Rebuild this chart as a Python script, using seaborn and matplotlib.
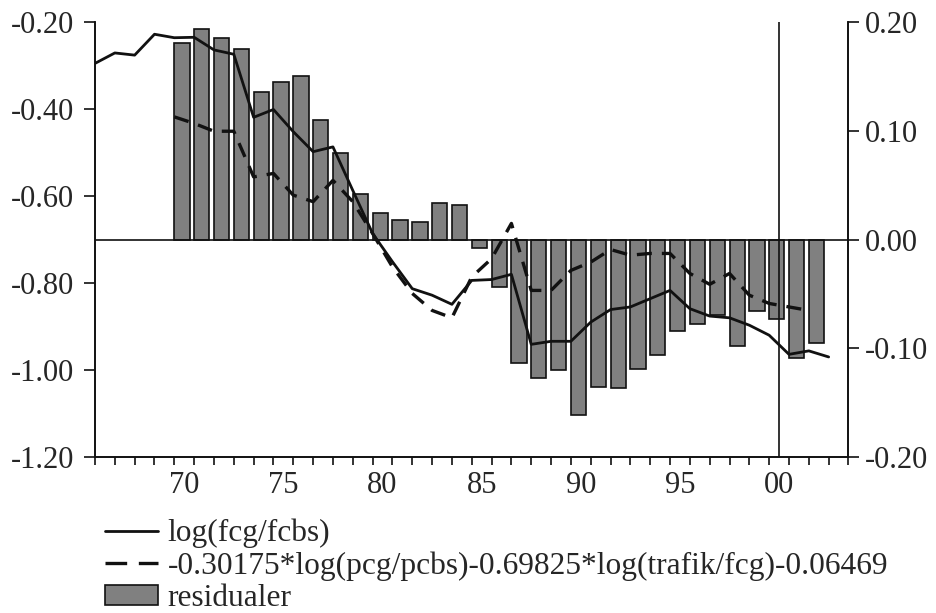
"""Residual chart: log(fcg/fcbs), fitted relation and residuals (twin axes)."""

import matplotlib

matplotlib.use("Agg")

import matplotlib.pyplot as plt
import matplotlib.patches as mpatches
import numpy as np
import pandas as pd
import seaborn as sns

# --- data ------------------------------------------------------------------
years_actual = list(range(1966, 2004))
actual = [
    -0.295, -0.271, -0.276, -0.228, -0.236, -0.235, -0.264, -0.274,
    -0.419, -0.401, -0.452, -0.498, -0.487, -0.587, -0.686, -0.751,
    -0.813, -0.828, -0.849, -0.794, -0.792, -0.780, -0.941, -0.934,
    -0.934, -0.890, -0.861, -0.855, -0.836, -0.817, -0.859, -0.876,
    -0.880, -0.897, -0.920, -0.964, -0.956, -0.970,
]

years_fit = list(range(1970, 2003))
fitted = [
    -0.418, -0.433, -0.451, -0.451, -0.556, -0.548, -0.598, -0.613,
    -0.564, -0.613, -0.686, -0.763, -0.824, -0.863, -0.880, -0.786,
    -0.744, -0.663, -0.817, -0.817, -0.771, -0.752, -0.723, -0.736,
    -0.732, -0.732, -0.778, -0.803, -0.778, -0.828, -0.847, -0.855,
    -0.863,
]
residuals = [
    0.181, 0.194, 0.185, 0.175, 0.136, 0.145, 0.150, 0.110,
    0.080, 0.042, 0.024, 0.018, 0.016, 0.034, 0.032, -0.008,
    -0.044, -0.114, -0.127, -0.120, -0.161, -0.136, -0.137, -0.119,
    -0.106, -0.084, -0.078, -0.069, -0.098, -0.066, -0.073, -0.109,
    -0.095,
]

label_years = [1970, 1975, 1980, 1985, 1990, 1995, 2000]
label_text = ["70", "75", "80", "85", "90", "95", "00"]
left_ticks = [-0.20, -0.40, -0.60, -0.80, -1.00, -1.20]
right_ticks = [0.20, 0.10, 0.00, -0.10, -0.20]
forecast_start = 2000.5

LBL_ACTUAL = "log(fcg/fcbs)"
LBL_FIT = "-0.30175*log(pcg/pcbs)-0.69825*log(trafik/fcg)-0.06469"
LBL_RESID = "residualer"

# --- style -----------------------------------------------------------------
sns.set_theme(style="white")
plt.rcParams["font.family"] = ["Liberation Serif", "DejaVu Serif"]
plt.rcParams["axes.unicode_minus"] = False
FS = 22
LEG_FS = 22.6
BAR_W = 0.77
BAR_COLOR = "#808080"
INK = "#111111"

fig = plt.figure(figsize=(9.36, 6.13), dpi=100)
ax = fig.add_axes([0.1015, 0.2545, 0.805, 0.7095])  # bars, right scale
ax2 = ax.twinx()  # lines, left scale

# residual bars (left edge at the year)
bar_df = pd.DataFrame({"pos": np.array(years_fit) + BAR_W / 2, "resid": residuals})
sns.barplot(
    data=bar_df, x="pos", y="resid", native_scale=True, width=BAR_W,
    color=BAR_COLOR, saturation=1, edgecolor=INK, linewidth=1.2,
    errorbar=None, ax=ax,
)
ax.axhline(0, color=INK, lw=1.2, zorder=1)
ax.axvline(forecast_start, color=INK, lw=1.2)

# lines
act_df = pd.DataFrame({"year": years_actual, "value": actual})
fit_df = pd.DataFrame({"year": years_fit, "value": fitted})
sns.lineplot(data=act_df, x="year", y="value", color=INK, lw=2.0, ax=ax2)
sns.lineplot(data=fit_df, x="year", y="value", color=INK, lw=2.4, ax=ax2)
ax2.lines[-1].set_dashes([4.5, 3.0])

# axes scales / ticks
ax.set_xlim(1966, 2004)
ax.set_ylim(-0.20, 0.20)
ax2.set_ylim(-1.20, -0.20)

ax.yaxis.tick_right()
ax.yaxis.set_label_position("right")
ax2.yaxis.tick_left()
ax2.yaxis.set_label_position("left")

ax.set_yticks(right_ticks)
ax.set_yticklabels([f"{v:.2f}" for v in right_ticks], fontsize=FS)
ax2.set_yticks(left_ticks)
ax2.set_yticklabels([f"{v:.2f}" for v in left_ticks], fontsize=FS)

ax.set_xticks(range(1966, 2005))
ax.set_xticklabels([])
ax.set_xticks([y + 0.5 for y in label_years], minor=True)
ax.set_xticklabels(label_text, minor=True, fontsize=FS)
ax.tick_params(axis="x", which="major", direction="out", length=6, width=1.2,
               color=INK, bottom=True)
ax.tick_params(axis="x", which="minor", length=0, pad=10, bottom=True)
ax.tick_params(axis="y", direction="out", length=8, width=1.2, color=INK,
               right=True, left=False, pad=4)
ax2.tick_params(axis="y", direction="out", length=8, width=1.2, color=INK,
                left=True, right=False, pad=7)

for a in (ax, ax2):
    a.set_xlabel("")
    a.set_ylabel("")
    a.spines["top"].set_visible(False)
    for side in ("left", "right", "bottom"):
        a.spines[side].set_color(INK)
        a.spines[side].set_linewidth(1.2)
ax2.grid(False)
ax.grid(False)

# legend below the plot
handles = [
    plt.Line2D([], [], color=INK, lw=2.0),
    plt.Line2D([], [], color=INK, lw=2.4, dashes=[6.5, 3.5]),
    mpatches.Patch(facecolor=BAR_COLOR, edgecolor=INK, linewidth=1.2),
]
fig.legend(
    handles, [LBL_ACTUAL, LBL_FIT, LBL_RESID],
    loc="upper left", bbox_to_anchor=(0.112, 0.154), frameon=False,
    fontsize=LEG_FS, handlelength=1.7, handleheight=0.6, handletextpad=0.3,
    labelspacing=0.1, borderpad=0, borderaxespad=0,
)

fig.savefig("out.png", dpi=100)
